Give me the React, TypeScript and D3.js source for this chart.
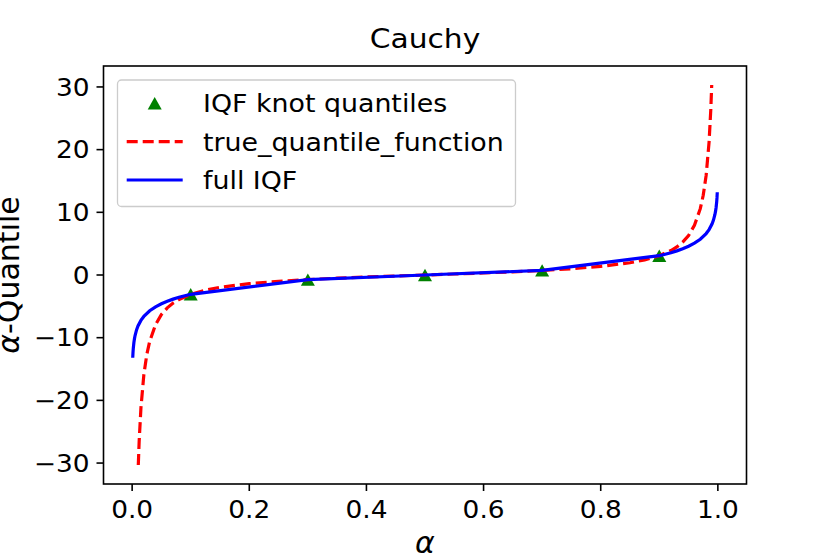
import React from 'react';
import * as d3 from 'd3';

// ---------- data ----------
const knotAlpha = [0.1, 0.3, 0.5, 0.7, 0.9];
const knotQuantile = [-3.08, -0.73, 0, 0.73, 3.08];

const trueAlpha = [
  0.0105, 0.012, 0.015, 0.02, 0.025, 0.03, 0.04, 0.05, 0.06, 0.07, 0.08, 0.1,
  0.125, 0.15, 0.2, 0.25, 0.3, 0.35, 0.4, 0.45, 0.5, 0.55, 0.6, 0.65, 0.7,
  0.75, 0.8, 0.85, 0.875, 0.9, 0.92, 0.93, 0.94, 0.95, 0.96, 0.97, 0.975,
  0.98, 0.985, 0.988, 0.9895,
];
const trueQuantile = [
  -30.31, -26.51, -21.2, -15.89, -12.71, -10.58, -7.92, -6.31, -5.24, -4.47,
  -3.9, -3.08, -2.41, -1.96, -1.38, -1.0, -0.73, -0.51, -0.32, -0.16, 0,
  0.16, 0.32, 0.51, 0.73, 1.0, 1.38, 1.96, 2.41, 3.08, 3.9, 4.47, 5.24, 6.31,
  7.92, 10.58, 12.71, 15.89, 21.2, 26.51, 30.31,
];

const iqfAlpha = [
  0.001, 0.0015, 0.002, 0.003, 0.004, 0.005, 0.0075, 0.01, 0.015, 0.02, 0.03,
  0.04, 0.05, 0.06, 0.07, 0.08, 0.09, 0.1, 0.3, 0.5, 0.7, 0.9, 0.91, 0.92,
  0.93, 0.94, 0.95, 0.96, 0.97, 0.98, 0.985, 0.99, 0.9925, 0.995, 0.996,
  0.997, 0.998, 0.9985, 0.999,
];
const iqfQuantile = [
  -13.2, -12.3, -11.67, -10.78, -10.15, -9.66, -8.76, -8.13, -7.24, -6.61,
  -5.71, -5.08, -4.59, -4.19, -3.85, -3.56, -3.3, -3.08, -0.73, 0, 0.73, 3.08,
  3.3, 3.56, 3.85, 4.19, 4.59, 5.08, 5.71, 6.61, 7.24, 8.13, 8.76, 9.66,
  10.15, 10.78, 11.67, 12.3, 13.2,
];

const xTicks = [0, 0.2, 0.4, 0.6, 0.8, 1.0];
const xTickLabels = ['0.0', '0.2', '0.4', '0.6', '0.8', '1.0'];
const yTicks = [-30, -20, -10, 0, 10, 20, 30];
const yTickLabels = ['\u221230', '\u221220', '\u221210', '0', '10', '20', '30'];

const legendLabels = ['IQF knot quantiles', 'true_quantile_function', 'full IQF'];
const titleText = 'Cauchy';

// ---------- layout ----------
const W = 830;
const H = 554;
const plot = { left: 103.5, right: 746.5, top: 66, bottom: 484 };
const SX = 1.1; // horizontal stretch of glyphs in the reference
const FONT = 'DejaVu Sans, sans-serif';
const TICK_FS = 24;
const LEG_FS = 24.4;
const TITLE_FS = 27;
const LABEL_FS = 30;

function pad(ext: [number, number]): [number, number] {
  const m = (ext[1] - ext[0]) * 0.05;
  return [ext[0] - m, ext[1] + m];
}

function STxt(props: {
  x: number;
  y: number;
  fs: number;
  anchor?: string;
  children: React.ReactNode;
}) {
  return (
    <text
      transform={`translate(${props.x},${props.y}) scale(${SX},1)`}
      fontSize={props.fs}
      fontFamily={FONT}
      textAnchor={props.anchor || 'start'}
      fill="#000"
    >
      {props.children}
    </text>
  );
}

export default function App() {
  const xExt = d3.extent(iqfAlpha) as [number, number];
  const allQ = [...trueQuantile, ...iqfQuantile, ...knotQuantile];
  const yExt = d3.extent(allQ) as [number, number];

  const x = d3.scaleLinear().domain(pad(xExt)).range([plot.left, plot.right]);
  const y = d3.scaleLinear().domain(pad(yExt)).range([plot.bottom, plot.top]);

  const line = d3
    .line<[number, number]>()
    .x((d) => x(d[0]))
    .y((d) => y(d[1]));

  const truePts = trueAlpha.map((a, i) => [a, trueQuantile[i]] as [number, number]);
  const iqfPts = iqfAlpha.map((a, i) => [a, iqfQuantile[i]] as [number, number]);

  const tri = (cx: number, cy: number) => {
    const hw = 7;
    const hh = 6.2;
    return `M${cx},${cy - hh}L${cx + hw},${cy + hh}L${cx - hw},${cy + hh}Z`;
  };

  const lw = 3.2;
  const dash = '11,5';
  const green = '#008000';

  const legX = 117.5;
  const legY = 80;
  const legW = 398;
  const legH = 126.5;
  const rowY = [103.3, 141.7, 180];
  const hx0 = 126.7;
  const hx1 = 182.7;
  const textX = 203;

  const cx = (plot.left + plot.right) / 2;
  const cy = (plot.top + plot.bottom) / 2;

  return (
    <svg width={W} height={H} style={{ position: 'absolute', left: 0, top: 0 }}>
      <rect x={0} y={0} width={W} height={H} fill="#fff" />
      <defs>
        <clipPath id="plotclip">
          <rect x={plot.left} y={plot.top} width={plot.right - plot.left} height={plot.bottom - plot.top} />
        </clipPath>
      </defs>

      {/* data */}
      <g clipPath="url(#plotclip)">
        {knotAlpha.map((a, i) => (
          <path key={i} d={tri(x(a), y(knotQuantile[i]))} fill={green} />
        ))}
        <path d={line(truePts) || ''} fill="none" stroke="#ff0000" strokeWidth={lw} strokeDasharray={dash} />
        <path d={line(iqfPts) || ''} fill="none" stroke="#0000ff" strokeWidth={lw} />
      </g>

      {/* axes frame */}
      <rect
        x={plot.left}
        y={plot.top}
        width={plot.right - plot.left}
        height={plot.bottom - plot.top}
        fill="none"
        stroke="#000"
        strokeWidth={1.6}
      />

      {/* x ticks */}
      {xTicks.map((t, i) => (
        <g key={'xt' + i}>
          <line x1={x(t)} x2={x(t)} y1={plot.bottom} y2={plot.bottom + 7} stroke="#000" strokeWidth={1.6} />
          <STxt x={x(t)} y={518.3} fs={TICK_FS} anchor="middle">
            {xTickLabels[i]}
          </STxt>
        </g>
      ))}

      {/* y ticks */}
      {yTicks.map((t, i) => (
        <g key={'yt' + i}>
          <line x1={plot.left - 7} x2={plot.left} y1={y(t)} y2={y(t)} stroke="#000" strokeWidth={1.6} />
          <STxt x={89.5} y={y(t) + 0.3645 * TICK_FS} fs={TICK_FS} anchor="end">
            {yTickLabels[i]}
          </STxt>
        </g>
      ))}

      {/* title */}
      <STxt x={cx} y={48.3} fs={TITLE_FS} anchor="middle">
        {titleText}
      </STxt>

      {/* axis labels */}
      <text
        x={cx}
        y={553}
        fontSize={LABEL_FS}
        fontFamily={FONT}
        fontStyle="italic"
        textAnchor="middle"
      >
        α
      </text>
      <text
        transform={`translate(19,${cy}) rotate(-90)`}
        fontSize={LABEL_FS}
        fontFamily={FONT}
        textAnchor="middle"
      >
        <tspan fontStyle="italic">α</tspan>
        <tspan>-Quantile</tspan>
      </text>

      {/* legend */}
      <rect
        x={legX}
        y={legY}
        width={legW}
        height={legH}
        rx={4}
        ry={4}
        fill="#fff"
        fillOpacity={0.8}
        stroke="#cccccc"
        strokeWidth={1.3}
      />
      <path d={tri((hx0 + hx1) / 2, rowY[0])} fill={green} />
      <line x1={hx0} x2={hx1} y1={rowY[1]} y2={rowY[1]} stroke="#ff0000" strokeWidth={lw} strokeDasharray={dash} />
      <line x1={hx0} x2={hx1} y1={rowY[2]} y2={rowY[2]} stroke="#0000ff" strokeWidth={lw} />
      {legendLabels.map((l, i) => (
        <STxt key={'lg' + i} x={textX} y={rowY[i] + 0.3645 * LEG_FS} fs={LEG_FS}>
          {l}
        </STxt>
      ))}
    </svg>
  );
}
